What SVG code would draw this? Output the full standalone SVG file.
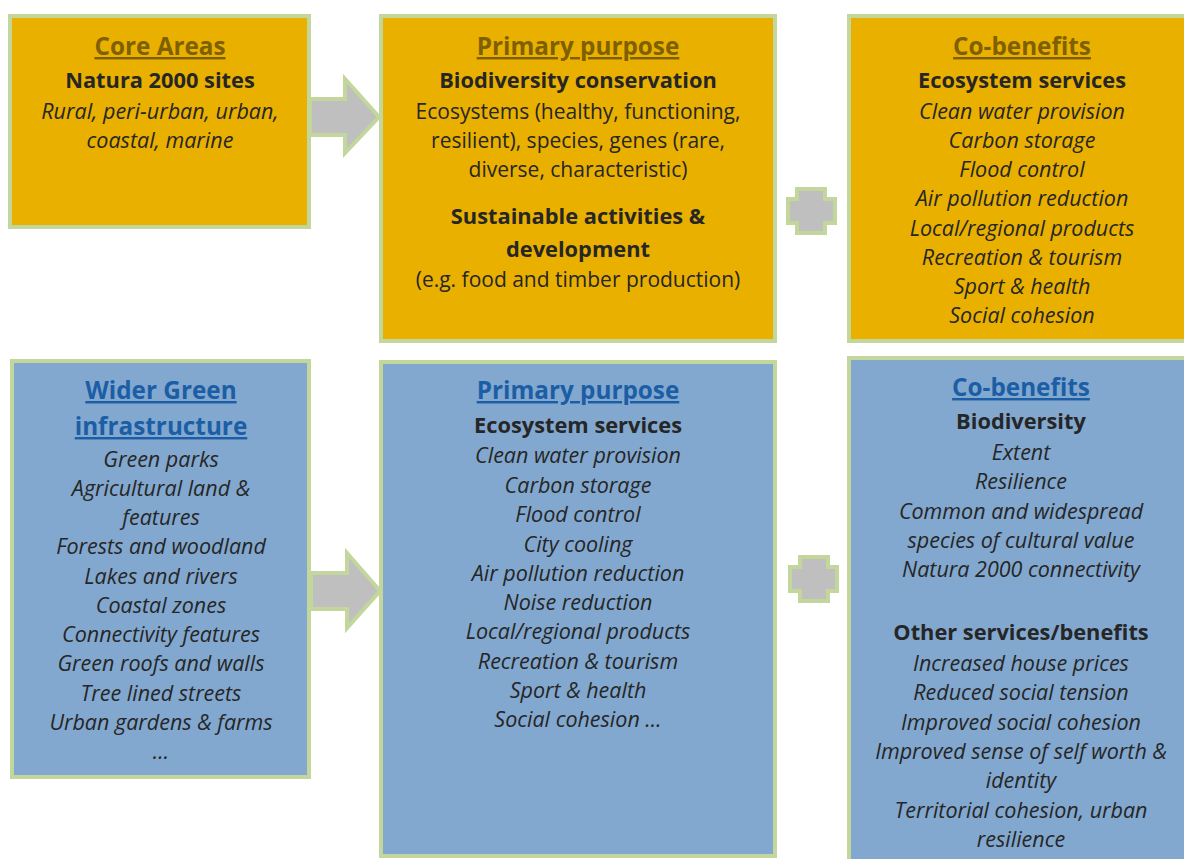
<svg xmlns="http://www.w3.org/2000/svg" width="1184" height="859" viewBox="0 0 1184 859">
<style>
text{font-family:"Open Sans","Noto Sans","Liberation Sans",sans-serif;text-anchor:middle;fill:#262626}
.gold{fill:#e9b000;stroke:#c3d69b;stroke-width:4}
.blue{fill:#82a8cf;stroke:#c3d69b;stroke-width:4}
.hg{font-size:24.3px;font-weight:bold;fill:#7f6000;text-decoration:underline}
.hb{font-size:24.3px;font-weight:bold;fill:#1b5ea6;text-decoration:underline}
.s{font-size:21.8px;font-weight:bold}
.i{font-size:21.5px;font-style:italic}
.n{font-size:21px}
.conn{fill:#bfbfbf;stroke:#c3d69b;stroke-width:4;stroke-linejoin:miter}
</style>
<rect width="1184" height="859" fill="#fff"/>
<g id="core">
<rect class="gold" x="10" y="16" width="299" height="211"/>
<text class="hg" x="160" y="55">Core Areas</text>
<text class="s" x="160" y="88">Natura 2000 sites</text>
<text class="i" x="160" y="119">Rural, peri-urban, urban,</text>
<text class="i" x="160" y="148">coastal, marine</text>
</g>
<g id="primary1">
<rect class="gold" x="381" y="16" width="394" height="325"/>
<text class="hg" x="578" y="55">Primary purpose</text>
<text class="s" x="578" y="88">Biodiversity conservation</text>
<text class="n" x="578" y="119">Ecosystems (healthy, functioning,</text>
<text class="n" x="578" y="148">resilient), species, genes (rare,</text>
<text class="n" x="578" y="177">diverse, characteristic)</text>
<text class="s" x="578" y="224">Sustainable activities &amp;</text>
<text class="s" x="578" y="257">development</text>
<text class="n" x="578" y="287">(e.g. food and timber production)</text>
</g>
<g id="cobenefits1">
<rect class="gold" x="849" y="16" width="340" height="325"/>
<text class="hg" x="1022" y="55">Co-benefits</text>
<text class="s" x="1022" y="88">Ecosystem services</text>
<text class="i" x="1022" y="119">Clean water provision</text>
<text class="i" x="1022" y="148">Carbon storage</text>
<text class="i" x="1022" y="177">Flood control</text>
<text class="i" x="1022" y="206">Air pollution reduction</text>
<text class="i" x="1022" y="236">Local/regional products</text>
<text class="i" x="1022" y="265">Recreation &amp; tourism</text>
<text class="i" x="1022" y="294">Sport &amp; health</text>
<text class="i" x="1022" y="323">Social cohesion</text>
</g>
<g id="wider">
<rect class="blue" x="12" y="361" width="297" height="416"/>
<text class="hb" x="161" y="399">Wider Green</text>
<text class="hb" x="161" y="435">infrastructure</text>
<text class="i" x="161" y="467">Green parks</text>
<text class="i" x="161" y="496">Agricultural land &amp;</text>
<text class="i" x="161" y="525">features</text>
<text class="i" x="161" y="554">Forests and woodland</text>
<text class="i" x="161" y="584">Lakes and rivers</text>
<text class="i" x="161" y="613">Coastal zones</text>
<text class="i" x="161" y="642">Connectivity features</text>
<text class="i" x="161" y="671">Green roofs and walls</text>
<text class="i" x="161" y="701">Tree lined streets</text>
<text class="i" x="161" y="730">Urban gardens &amp; farms</text>
<text class="i" x="161" y="759">…</text>
</g>
<g id="primary2">
<rect class="blue" x="381" y="362" width="394" height="494"/>
<text class="hb" x="578" y="399">Primary purpose</text>
<text class="s" x="578" y="433">Ecosystem services</text>
<text class="i" x="578" y="463">Clean water provision</text>
<text class="i" x="578" y="493">Carbon storage</text>
<text class="i" x="578" y="522">Flood control</text>
<text class="i" x="578" y="552">City cooling</text>
<text class="i" x="578" y="581">Air pollution reduction</text>
<text class="i" x="578" y="610">Noise reduction</text>
<text class="i" x="578" y="639">Local/regional products</text>
<text class="i" x="578" y="669">Recreation &amp; tourism</text>
<text class="i" x="578" y="698">Sport &amp; health</text>
<text class="i" x="578" y="727">Social cohesion …</text>
</g>
<g id="cobenefits2">
<rect class="blue" x="849" y="358" width="340" height="505"/>
<text class="hb" x="1021" y="396">Co-benefits</text>
<text class="s" x="1021" y="429">Biodiversity</text>
<text class="i" x="1021" y="460">Extent</text>
<text class="i" x="1021" y="489">Resilience</text>
<text class="i" x="1021" y="519">Common and widespread</text>
<text class="i" x="1021" y="548">species of cultural value</text>
<text class="i" x="1021" y="577">Natura 2000 connectivity</text>
<text class="s" x="1021" y="640">Other services/benefits</text>
<text class="i" x="1021" y="671">Increased house prices</text>
<text class="i" x="1021" y="700">Reduced social tension</text>
<text class="i" x="1021" y="730">Improved social cohesion</text>
<text class="i" x="1021" y="759">Improved sense of self worth &amp;</text>
<text class="i" x="1021" y="788">identity</text>
<text class="i" x="1021" y="818">Territorial cohesion, urban</text>
<text class="i" x="1021" y="847">resilience</text>
</g>
<g id="connectors">
<path class="conn" d="M310,99 H345 V79 L379,117 L345,153 V135 H310 Z"/>
<path class="conn" d="M311,573 H347 V553 L380,591 L347,628 V609 H311 Z"/>
<path class="conn" d="M797,189 H825 V199 H835 V223 H825 V233 H797 V223 H788 V199 H797 Z"/>
<path class="conn" d="M800,557 H828 V567 H837 V591 H828 V601 H800 V591 H790 V567 H800 Z"/>
</g>
</svg>
